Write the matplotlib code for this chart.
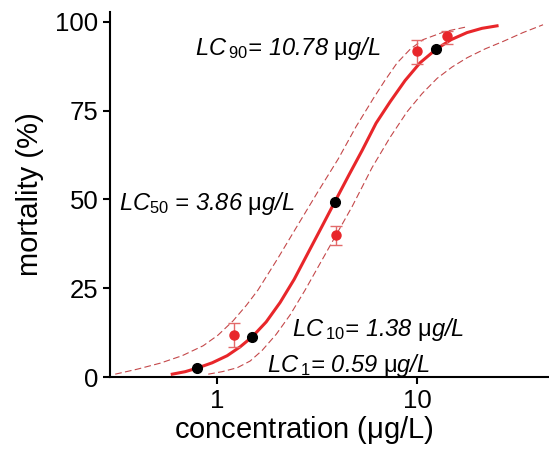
import matplotlib
matplotlib.use("Agg")
import matplotlib.pyplot as plt
from matplotlib.ticker import NullLocator, FixedLocator

plt.rcParams['font.family'] = ['Liberation Sans', 'DejaVu Sans']
plt.rcParams['mathtext.fontset'] = 'custom'
plt.rcParams['mathtext.rm'] = 'Liberation Sans'
plt.rcParams['mathtext.it'] = 'Liberation Sans:italic'

# fitted curve
fit_x = [0.596, 0.692, 0.794, 0.944, 1.122, 1.303, 1.496, 1.758, 2.065, 2.427,
         2.851, 3.350, 3.890, 4.571, 5.309, 6.237, 7.328, 8.710, 10.35, 12.45,
         14.79, 17.78, 21.13, 25.12]
fit_y = [0.8, 1.5, 2.5, 4.0, 6.0, 8.5, 11.3, 15.5, 21.0, 27.5,
         35.0, 42.5, 49.5, 57.0, 63.8, 71.5, 77.5, 83.5, 88.5, 92.3,
         95.0, 97.0, 98.2, 98.9]

# confidence bands
upper_x = [0.309, 0.398, 0.519, 0.668, 0.851, 1.01, 1.20, 1.40, 1.60, 2.0,
           2.5, 3.2, 4.04, 4.95, 6.05, 6.92, 7.93, 9.23, 10.7, 13.8, 18.0]
upper_y = [0.8, 2.2, 3.9, 6.0, 8.8, 11.8, 15.8, 20.2, 24.5, 33.2,
           42.3, 52.3, 61.5, 70.5, 78.5, 83.6, 88.4, 92.3, 95.0, 97.3, 98.7]
lower_x = [0.902, 1.059, 1.259, 1.462, 1.679, 1.972, 2.317, 2.754, 3.273, 3.890,
           4.732, 5.957, 7.328, 8.913, 10.59, 12.59, 14.96, 17.78, 21.88, 26.92,
           33.88, 42.66]
lower_y = [0.8, 1.5, 2.6, 4.5, 7.5, 12.0, 17.5, 24.5, 32.0, 39.5,
           48.0, 59.0, 67.5, 74.7, 79.8, 84.1, 87.3, 89.9, 92.4, 94.5,
           97.0, 99.2]

# observed mortality with error bars
obs_x = [1.21, 3.92, 10.0, 14.1]
obs_y = [11.8, 39.9, 91.7, 95.9]
obs_lo = [8.5, 37.1, 88.1, 93.7]
obs_hi = [15.1, 42.5, 94.9, 97.5]

# LC points on the curve
lc_x = [0.79, 1.49, 3.89, 12.4]
lc_y = [2.5, 11.2, 49.4, 92.5]

fig = plt.figure(figsize=(5.49, 4.54), dpi=100)
ax = fig.add_axes([0.2004, 0.1696, 0.7996, 0.804])

red = '#e8262a'
band = '#c4484a'

ax.plot(upper_x, upper_y, '--', color=band, lw=0.8, dashes=(6, 3))
ax.plot(lower_x, lower_y, '--', color=band, lw=0.8, dashes=(6, 3))
ax.plot(fit_x, fit_y, '-', color=red, lw=2.2)

yerr = [[y - lo for y, lo in zip(obs_y, obs_lo)],
        [hi - y for y, hi in zip(obs_y, obs_hi)]]
ax.errorbar(obs_x, obs_y, yerr=yerr, fmt='o', color=red, ms=6.5,
            ecolor='#e36a6a', elinewidth=1, capsize=4, capthick=1, zorder=3)
ax.plot(lc_x, lc_y, 'o', color='black', ms=7, zorder=4)

ax.set_xscale('log')
ax.set_xlim(0.291, 45.7)
ax.set_ylim(0, 102.8)
ax.xaxis.set_major_locator(FixedLocator([1, 10]))
ax.xaxis.set_minor_locator(NullLocator())
ax.set_xticklabels(['1', '10'])
ax.set_yticks([0, 25, 50, 75, 100])

for s in ['top', 'right']:
    ax.spines[s].set_visible(False)
for s in ['left', 'bottom']:
    ax.spines[s].set_linewidth(1.5)
ax.tick_params(width=1.5, length=5, labelsize=18.5)

ax.set_xlabel('concentration ($\\mathrm{\\mu}$g/L)', fontsize=21)
ax.xaxis.set_label_coords(0.442, -0.1)
ax.set_ylabel('mortality (%)', fontsize=21, labelpad=8)

txt = dict(fontsize=17, fontstyle='italic', va='baseline')
ax.text(0.776, 90.7, r"$LC\,{}_{\mathit{90}}$= 10.78 $\mathrm{\mu}$g/L", **txt)
ax.text(0.321, 47.0, r"$LC_{\mathit{50}}$ = 3.86 $\mathrm{\mu}$g/L", **txt)
ax.text(2.363, 11.5, r"$LC\,{}_{\mathit{10}}$= 1.38 $\mathrm{\mu}$g/L", **txt)
ax.text(1.772, 1.5, r"$LC\,{}_{\mathit{1}}$= 0.59 $\mathrm{\mu}$g/L", **txt)

fig.savefig('out.png', dpi=100)
